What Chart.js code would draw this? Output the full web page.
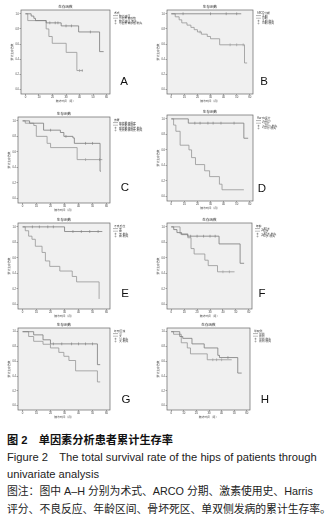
<!DOCTYPE html>
<html>
<head>
<meta charset="utf-8">
<script src="https://cdn.jsdelivr.net/npm/chart.js@4.4.1/dist/chart.umd.min.js"></script>
<style>
  body { margin: 0; background: #fff; }
  #page { position: relative; width: 335px; height: 531px; overflow: hidden;
          font-family: "Liberation Sans", "Noto Sans CJK SC", sans-serif; }
  canvas { position: absolute; }
  .letter { position: absolute; font-size: 11.5px; line-height: 12px; color: #111; transform: translate(-50%, -50%); }
  .cap { position: absolute; left: 7px; font-size: 10.8px; line-height: 13px; color: #222; white-space: nowrap; }
  .cap.en { font-size: 11.2px; }
  .cap.head { font-weight: bold; color: #111; font-size: 11.2px; }
</style>
</head>
<body>
<div id="page"></div>
<script>
// axis ticks (months / cumulative survival)
var xTicks = [0, 10, 20, 30, 40, 50, 60];
var yTicks = [0, 0.2, 0.4, 0.6, 0.8, 1.0];

// Kaplan-Meier curves: [time, survival after the event]
var curveA1 = [[0,1],[4.2,0.97],[6.2,0.94],[7.4,0.91],[15.3,0.88],[26.4,0.84],[39.3,0.76],[54.8,0.5],[57.8,0.5]];
var curveA2 = [[0,1],[1.7,0.91],[15.3,0.80],[17.3,0.70],[19.8,0.61],[30.1,0.49],[38,0.25],[42.5,0.25]];
var curveB1 = [[0,1],[53.5,1]];
var curveB2 = [[0,1],[3,0.96],[6,0.92],[8,0.88],[12,0.85],[15,0.82],[17.5,0.79],[20,0.76],[23,0.73],[27.5,0.70],[30,0.67],[37,0.59],[56,0.35],[58,0.35]];
var curveC1 = [[0,1],[5,0.97],[15,0.88],[27,0.85],[29.5,0.80],[36,0.78],[37,0.71],[55.4,0.35],[56,0.35]];
var curveC2 = [[0,1],[1.9,0.97],[8,0.94],[9.8,0.80],[17.5,0.71],[20,0.655],[39,0.50],[57,0.50]];
var curveD1 = [[0,1],[13,0.945],[55.5,0.75],[58.8,0.75]];
var curveD2 = [[0,1],[1.75,0.92],[3.5,0.84],[6.75,0.66],[13.5,0.6],[15.5,0.5],[18.5,0.41],[25.5,0.33],[29.3,0.255],[36.8,0.157],[38.8,0.085],[55.5,0.085]];
var curveE1 = [[0,1],[30,0.94],[57,0.94]];
var curveE2 = [[0,1],[1.9,0.95],[4.3,0.88],[6.7,0.84],[9.1,0.75],[13.9,0.67],[16.3,0.56],[19.4,0.49],[26.6,0.43],[35.5,0.36],[38.6,0.29],[54.7,0.07]];
var curveF1 = [[0,1],[1.9,0.965],[4.4,0.926],[8,0.9],[12.8,0.88],[37,0.78],[53.3,0.53],[56.4,0.53]];
var curveF2 = [[0,1],[6.8,0.91],[12.8,0.86],[15.3,0.72],[17.7,0.65],[26,0.57],[28.6,0.50],[35.8,0.42],[49,0.42]];
var curveG1 = [[0,1],[7.9,0.957],[14.6,0.89],[19.9,0.835],[53.5,0.554],[55.5,0.554]];
var curveG2 = [[0,1],[4.3,0.935],[7.9,0.87],[14.6,0.83],[19.9,0.78],[25.9,0.72],[29.5,0.667],[33.1,0.61],[37.9,0.47],[53.5,0.32],[55.5,0.32]];
var curveH1 = [[0,1],[6.8,0.935],[9.2,0.91],[16.5,0.835],[26.2,0.78],[37,0.68],[38.3,0.65],[52.8,0.44],[55.9,0.44]];
var curveH2 = [[0,1],[1.9,0.965],[8,0.85],[12.8,0.78],[15.3,0.70],[28.6,0.62],[48,0.62]];

// censored times
var censA1 = [18, 22, 24, 30, 34, 48];
var censA2 = [40, 42];
var censB1 = [9, 30, 42, 50];
var censB2 = [22, 45, 50, 55];
var censC1 = [20, 31, 45, 50];
var censC2 = [45, 55];
var censD1 = [18, 22, 28, 32, 38, 48];
var censD2 = [];
var censE1 = [7, 12, 18, 22, 36, 42, 48, 54];
var censE2 = [];
var censF1 = [15, 20, 25, 30, 34];
var censF2 = [40, 45];
var censG1 = [22, 28, 35, 40, 45, 50];
var censG2 = [];
var censH1 = [45];
var censH2 = [33, 36, 40];

var legendTitles = ['术式', 'ARCO分期', '激素', 'Harris评分', '不良反应', '年龄', '坏死区域', '单双侧'];
var groupNames = [
  ['髓芯减压', '带血管骨移植'],
  ['Ⅱ期', 'Ⅲ期'],
  ['有激素使用史', '无激素使用史'],
  ['≥70分', '<70分'],
  ['无', '有'],
  ['≤40岁', '>40岁'],
  ['小', '大'],
  ['单侧', '双侧']
];
var panelLetters = ['A', 'B', 'C', 'D', 'E', 'F', 'G', 'H'];

var lineColors = ['#7a7a7a', '#969696'];
var page = document.getElementById('page');

// frame rectangles [left, top, right, bottom] and letter centres
var panels = [
  { frame: [21, 10, 110, 94],  curves: [curveA1, curveA2], cens: [censA1, censA2], letter: [124, 81] },
  { frame: [167, 10, 253, 94], curves: [curveB1, curveB2], cens: [censB1, censB2], letter: [264, 81] },
  { frame: [18, 117, 110, 203], curves: [curveC1, curveC2], cens: [censC1, censC2], letter: [125, 187] },
  { frame: [167, 115, 253, 201], curves: [curveD1, curveD2], cens: [censD1, censD2], letter: [262, 188] },
  { frame: [18, 223, 110, 309], curves: [curveE1, curveE2], cens: [censE1, censE2], letter: [125, 293] },
  { frame: [167, 223, 252, 309], curves: [curveF1, curveF2], cens: [censF1, censF2], letter: [262, 293] },
  { frame: [18, 328, 110, 410], curves: [curveG1, curveG2], cens: [censG1, censG2], letter: [126, 399] },
  { frame: [167, 328, 250, 410], curves: [curveH1, curveH2], cens: [censH1, censH2], letter: [265, 399] }
];

function survAt(curve, t) {
  var s = 1;
  for (var i = 0; i < curve.length; i++) if (curve[i][0] <= t) s = curve[i][1];
  return s;
}

var framePlugin = {
  id: 'framePlugin',
  beforeDraw: function (chart) {
    var a = chart.chartArea, ctx = chart.ctx;
    ctx.save();
    ctx.fillStyle = '#f0f0f0';
    ctx.fillRect(a.left, a.top, a.right - a.left, a.bottom - a.top);
    ctx.restore();
  },
  afterDraw: function (chart) {
    var a = chart.chartArea, ctx = chart.ctx, o = chart.options.plugins.framePlugin;
    ctx.save();
    ctx.strokeStyle = '#666';
    ctx.lineWidth = 0.7;
    ctx.strokeRect(a.left, a.top, a.right - a.left, a.bottom - a.top);
    // chart title
    ctx.fillStyle = '#333';
    ctx.font = '3.6px "Noto Sans CJK SC"';
    ctx.textAlign = 'center';
    ctx.textBaseline = 'middle';
    ctx.fillText('生存函数', (a.left + a.right) / 2, a.top - 3);
    // legend
    var lx = a.right + 3, ly = a.top + 3;
    ctx.textAlign = 'left';
    ctx.font = '2.8px "Noto Sans CJK SC"';
    ctx.fillText(o.title, lx + 1, ly);
    var rows = [o.names[0], o.names[1], o.names[0] + '-删失', o.names[1] + '-删失'];
    rows.forEach(function (r, k) {
      var y = ly + 2.6 * (k + 1);
      var col = lineColors[k % 2];
      ctx.strokeStyle = col;
      ctx.lineWidth = 0.6;
      ctx.beginPath();
      if (k < 2) {
        ctx.moveTo(lx, y); ctx.lineTo(lx + 5, y);
      } else {
        ctx.moveTo(lx + 2.5, y - 1); ctx.lineTo(lx + 2.5, y + 1);
        ctx.moveTo(lx + 1.5, y); ctx.lineTo(lx + 3.5, y);
      }
      ctx.stroke();
      ctx.fillStyle = '#444';
      ctx.fillText(r, lx + 6, y);
    });
    ctx.restore();
  }
};

panels.forEach(function (p, idx) {
  var fl = p.frame[0], ft = p.frame[1], fr = p.frame[2], fb = p.frame[3];
  var padL = 12, padT = 10, padR = 48, padB = 9;
  var w = fr - fl + padL + padR, h = fb - ft + padT + padB;
  var cv = document.createElement('canvas');
  cv.width = w; cv.height = h;
  cv.style.left = (fl - padL) + 'px';
  cv.style.top = (ft - padT) + 'px';
  cv.style.width = w + 'px';
  cv.style.height = h + 'px';
  page.appendChild(cv);

  var datasets = [];
  p.curves.forEach(function (c, k) {
    datasets.push({
      data: c.map(function (d) { return { x: d[0], y: d[1] }; }),
      stepped: true,
      borderColor: lineColors[k],
      borderWidth: 0.8,
      pointRadius: 0,
      fill: false
    });
  });
  p.cens.forEach(function (ts, k) {
    datasets.push({
      data: ts.map(function (t) { return { x: t, y: survAt(p.curves[k], t) }; }),
      showLine: false,
      pointStyle: 'line',
      rotation: 90,
      pointRadius: 1.4,
      borderColor: lineColors[k],
      borderWidth: 0.6
    });
  });

  new Chart(cv, {
    type: 'line',
    data: { datasets: datasets },
    plugins: [framePlugin],
    options: {
      responsive: false,
      animation: false,
      devicePixelRatio: 1,
      layout: { padding: { left: 0, top: padT, right: padR, bottom: 0 } },
      plugins: {
        legend: { display: false },
        tooltip: { enabled: false },
        framePlugin: { title: legendTitles[idx], names: groupNames[idx] }
      },
      scales: {
        x: {
          type: 'linear', min: -3.3, max: 62.5,
          afterFit: function (s) { s.height = padB; },
          afterBuildTicks: function (s) { s.ticks = xTicks.map(function (v) { return { value: v }; }); },
          grid: { drawOnChartArea: false, tickLength: 1.5, color: '#555', lineWidth: 0.5 },
          border: { display: false },
          ticks: { font: { size: 2.8 }, color: '#444', padding: 0.5, maxRotation: 0, autoSkip: false },
          title: { display: true, text: '随访时间（月）', font: { size: 2.8, family: 'Noto Sans CJK SC' }, color: '#444', padding: 0 }
        },
        y: {
          min: -0.06, max: 1.05,
          afterFit: function (s) { s.width = padL; },
          afterBuildTicks: function (s) { s.ticks = yTicks.map(function (v) { return { value: v }; }); },
          grid: { drawOnChartArea: false, tickLength: 1.5, color: '#555', lineWidth: 0.5 },
          border: { display: false },
          ticks: { font: { size: 2.6 }, color: '#444', padding: 0.5, callback: function (v) { return v.toFixed(1); } },
          title: { display: true, text: '累计生存函数', font: { size: 2.8, family: 'Noto Sans CJK SC' }, color: '#444', padding: 1 }
        }
      }
    }
  });

  var lab = document.createElement('div');
  lab.className = 'letter';
  lab.textContent = panelLetters[idx];
  lab.style.left = p.letter[0] + 'px';
  lab.style.top = p.letter[1] + 'px';
  page.appendChild(lab);
});

var captionLines = [
  ['图 2　单因素分析患者累计生存率', 434, 'head'],
  ['Figure 2　The total survival rate of the hips of patients through', 451, 'en'],
  ['univariate analysis', 468, 'en'],
  ['图注：图中 A–H 分别为术式、ARCO 分期、激素使用史、Harris', 485, ''],
  ['评分、不良反应、年龄区间、骨坏死区、单双侧发病的累计生存率。', 503, '']
];
captionLines.forEach(function (c) {
  var d = document.createElement('div');
  d.className = 'cap ' + c[2];
  d.textContent = c[0];
  d.style.top = c[1] + 'px';
  page.appendChild(d);
});
</script>
</body>
</html>
